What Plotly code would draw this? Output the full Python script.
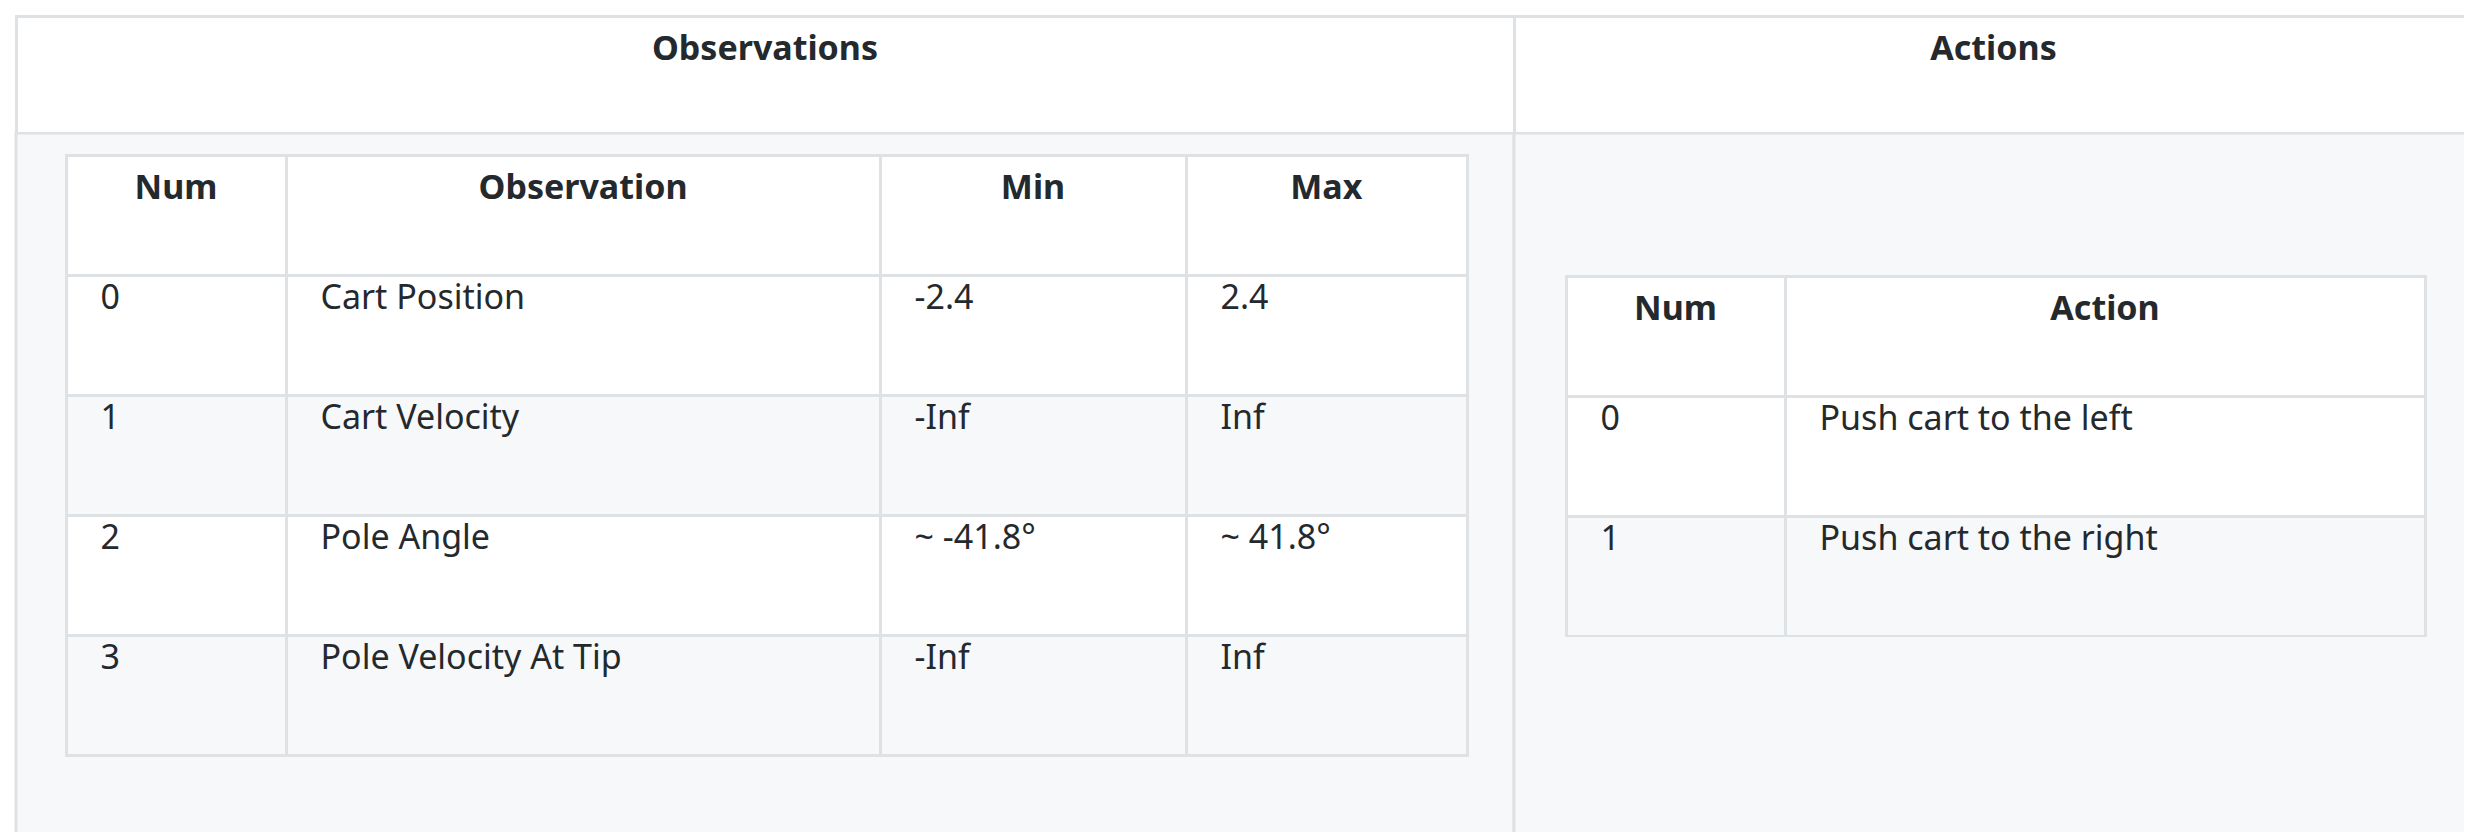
import plotly.graph_objects as go

W, H = 2472, 832
outer_headers = ["<b>Observations</b>", "<b>Actions</b>"]
obs_headers = ["<b>Num</b>", "<b>Observation</b>", "<b>Min</b>", "<b>Max</b>"]
obs_num = ["0", "1", "2", "3"]
obs_name = ["Cart Position", "Cart Velocity", "Pole Angle", "Pole Velocity At Tip"]
obs_min = ["-2.4", "-Inf", "~ -41.8°", "-Inf"]
obs_max = ["2.4", "Inf", "~ 41.8°", "Inf"]
act_headers = ["<b>Num</b>", "<b>Action</b>"]
act_num = ["0", "1"]
act_name = ["Push cart to the left", "Push cart to the right"]

BORDER = "#dfe2e5"
GRAY = "#f6f8fa"
TXT = "#24292e"
FONT = "Noto Sans"
FS = 34
pad = lambda L: ["   " + s for s in L]

def dom(x0, x1, y0, y1):
    return dict(x=[x0 / W, x1 / W], y=[1 - y1 / H, 1 - y0 / H])

fig = go.Figure()
fig.add_trace(go.Table(
    domain=dom(8, 2465, 8, 125),
    columnwidth=[1498, 959],
    header=dict(values=outer_headers, height=117, fill_color="white",
                line=dict(color=BORDER, width=3), align="center",
                font=dict(family=FONT, size=FS, color=TXT)),
    cells=dict(values=[[], []], height=1, line=dict(width=0))))

rows4 = ["white", GRAY, "white", GRAY]
fig.add_trace(go.Table(
    domain=dom(58, 1459, 147, 749),
    columnwidth=[220, 594, 306, 281],
    header=dict(values=obs_headers, height=120, fill_color="white",
                line=dict(color=BORDER, width=3), align="center",
                font=dict(family=FONT, size=FS, color=TXT)),
    cells=dict(values=[pad(obs_num), pad(obs_name), pad(obs_min), pad(obs_max)],
               height=120, fill_color=[rows4] * 4,
               line=dict(color=BORDER, width=3), align="left",
               font=dict(family=FONT, size=FS, color=TXT))))

fig.add_trace(go.Table(
    domain=dom(1558, 2417, 268, 629),
    columnwidth=[219, 640],
    header=dict(values=act_headers, height=120, fill_color="white",
                line=dict(color=BORDER, width=3), align="center",
                font=dict(family=FONT, size=FS, color=TXT)),
    cells=dict(values=[pad(act_num), pad(act_name)], height=120,
               fill_color=[["white", GRAY]] * 2,
               line=dict(color=BORDER, width=3), align="left",
               font=dict(family=FONT, size=FS, color=TXT))))

shapes = [
    dict(type="rect", xref="paper", yref="paper", x0=8 / W, x1=1506 / W,
         y0=1 - 826 / H, y1=1 - 125 / H, fillcolor=GRAY, line=dict(color=BORDER, width=3), layer="below"),
    dict(type="rect", xref="paper", yref="paper", x0=1506 / W, x1=2465 / W,
         y0=1 - 826 / H, y1=1 - 125 / H, fillcolor=GRAY, line=dict(color=BORDER, width=3), layer="below"),
]
fig.update_layout(width=W, height=H, margin=dict(l=0, r=0, t=0, b=0),
                  paper_bgcolor="white", plot_bgcolor="white", shapes=shapes)
fig.write_html("out.html")
